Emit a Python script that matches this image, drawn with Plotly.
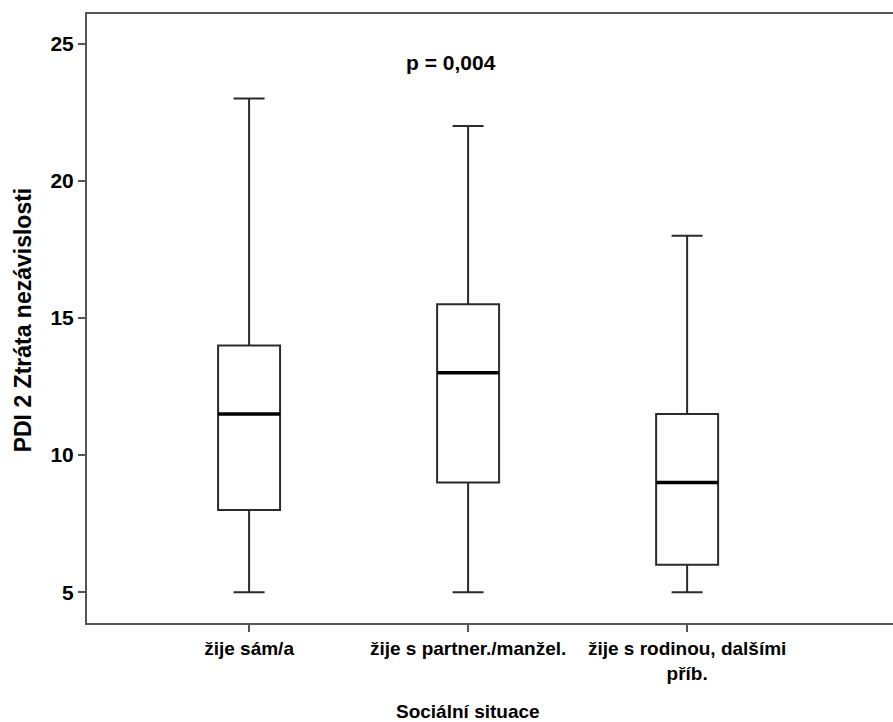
import plotly.graph_objects as go

categories = ["žije sám/a", "žije s partner./manžel.", "žije s rodinou, dalšími<br>příb."]
lower_whisker = [5, 5, 5]
q1 = [8, 9, 6]
median = [11.5, 13, 9]
q3 = [14, 15.5, 11.5]
upper_whisker = [23, 22, 18]
y_ticks = [5, 10, 15, 20, 25]
p_text = "p = 0,004"

FONT = "Liberation Sans, Arial, sans-serif"
BOX_W = 0.283
xs = list(range(len(categories)))

fig = go.Figure()
fig.add_trace(go.Box(
    x=xs, lowerfence=lower_whisker, q1=q1, median=median, q3=q3,
    upperfence=upper_whisker, width=BOX_W, whiskerwidth=0.5,
    fillcolor="white", line=dict(color="#2b2b2b", width=2),
    boxpoints=False, showlegend=False, hoverinfo="skip",
))
# thick median lines
for i, m in zip(xs, median):
    fig.add_trace(go.Scatter(
        x=[i - BOX_W / 2, i + BOX_W / 2], y=[m, m], mode="lines",
        line=dict(color="black", width=3.5), showlegend=False, hoverinfo="skip",
    ))

fig.add_annotation(x=0.92, y=24.3, xref="x", yref="y", text=p_text, showarrow=False,
                   font=dict(family=FONT, size=21, color="black", weight="bold"))
fig.add_annotation(x=1, y=-0.146, xref="x", yref="paper", text="Sociální situace",
                   showarrow=False, yanchor="middle",
                   font=dict(family=FONT, size=19, color="black", weight="bold"))
fig.add_annotation(x=-0.0794, y=0.497, xref="paper", yref="paper", text="PDI 2 Ztráta nezávislosti",
                   showarrow=False, textangle=-90, xanchor="center", yanchor="middle",
                   font=dict(family=FONT, size=23, color="black", weight="bold"))

fig.update_layout(
    width=893, height=722,
    margin=dict(l=87, r=0, t=14, b=99),
    paper_bgcolor="white", plot_bgcolor="white",
    showlegend=False,
    xaxis=dict(
        range=[-0.74, 2.94], tickmode="array", tickvals=xs, ticktext=categories,
        showgrid=False, zeroline=False, showline=True, mirror=True,
        linecolor="#555555", linewidth=2, ticks="outside", ticklen=7,
        tickwidth=2, tickcolor="#555555",
        tickfont=dict(family=FONT, size=19, color="black", weight="bold"),
    ),
    yaxis=dict(
        range=[3.88, 26.08], tickmode="array", tickvals=y_ticks,
        showgrid=False, zeroline=False, showline=True, mirror=False,
        linecolor="#555555", linewidth=2, ticks="outside", ticklen=7,
        tickwidth=2, tickcolor="#555555",
        tickfont=dict(family=FONT, size=21, color="black", weight="bold"),
    ),
)
fig.write_html("out.html")
